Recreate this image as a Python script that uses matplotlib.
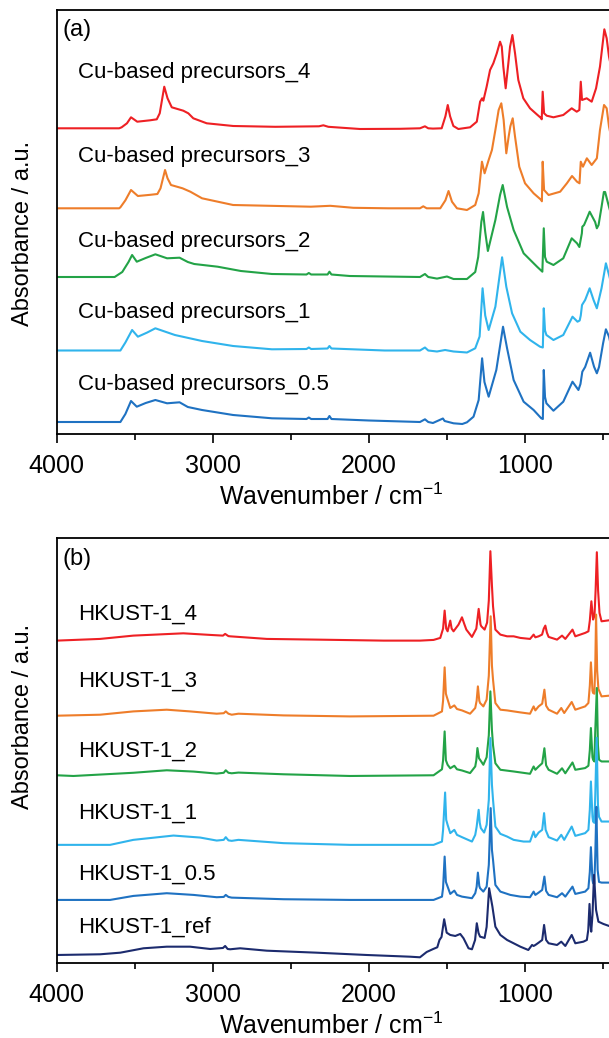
import matplotlib
matplotlib.use("Agg")
import matplotlib.pyplot as plt
from matplotlib.ticker import MultipleLocator

plt.rcParams['font.family'] = ['Liberation Sans', 'DejaVu Sans']
plt.rcParams['mathtext.fontset'] = 'custom'
plt.rcParams['mathtext.rm'] = 'Liberation Sans'
plt.rcParams['mathtext.default'] = 'regular'

# ---------------- Panel (a): Cu-based precursors (wavenumber cm-1, absorbance a.u.) ----------------
prec_4 = [(4000,0),(3600,0),(3584,1),(3550,5),(3524,11),(3484,6.6),(3402,8),(3359,9),(3340,15),
          (3311,41.6),(3290,30),(3263,21),(3189,17.6),(3157,15),(3125,10),(3039,5),(2869,2.3),
          (2600,1.5),(2320,2),(2292,3),(2260,1.5),(2057,-0.7),(1800,-0.5),(1673,0),(1641,2),
          (1620,0),(1590,-0.3),(1534,0),(1510,12),(1495,23.3),(1480,12),(1459,2.3),(1427,-0.7),
          (1352,1),(1309,6.6),(1288,26.6),(1275,30),(1267,27.6),(1246,41.6),(1224,58.3),(1203,65),
          (1181,75),(1160,86.6),(1149,81.6),(1139,61.6),(1124,40),(1107,65),(1096,81.6),(1081,93.3),
          (1064,75),(1043,48.3),(1011,30),(968,20),(925,14),(900,10.6),(893,9),(887,36.6),(878,15),
          (861,12.6),(818,11),(755,13.3),(701,20),(669,16.6),(652,18.3),(643,46.6),(635,28.3),
          (605,30),(573,26.6),(545,40),(520,61.6),(492,99),(477,90),(462,71.6),(440,55),(400,45)]
prec_3 = [(4000,0),(3600,0),(3592,1),(3560,8),(3524,18.3),(3480,12.3),(3400,13.5),(3355,14.3),
          (3335,20),(3306,38.3),(3290,30),(3268,23.3),(3194,20),(3144,16.6),(3069,10),(2870,3.3),
          (2372,1.6),(2248,2.5),(2100,0.5),(1876,0),(1673,0),(1652,2),(1630,0),(1543,0),(1510,8),
          (1490,17.3),(1468,6.6),(1436,0),(1372,-1.7),(1319,3.3),(1297,15),(1276,46.6),(1259,35),
          (1233,48.3),(1212,58.3),(1190,78.3),(1169,98.3),(1152,105),(1137,88.3),(1120,55),
          (1105,71.6),(1094,82),(1079,90),(1064,71.6),(1037,41.6),(1000,25),(945,15),(896,8.3),
          (892,7),(887,46.6),(878,18.3),(849,13.3),(775,16.6),(732,25),(699,32.3),(667,26.6),
          (651,25),(643,46.6),(629,41.6),(604,50),(573,43.3),(540,50),(520,78.3),(494,103.3),
          (477,100),(462,81.6),(440,65),(400,55)]
prec_2 = [(4000,0),(3629,0),(3580,5),(3540,15),(3517,22),(3487,15.3),(3430,19),(3368,22.7),
          (3293,18.7),(3213,19.3),(3160,15),(3119,13),(2969,10.3),(2820,6),(2621,3),(2400,2.5),
          (2385,4),(2370,2.5),(2265,2.5),(2253,5.3),(2240,2.5),(2123,1),(1900,0.5),(1673,0),
          (1641,3),(1620,0),(1564,-1.6),(1500,0.5),(1458,-2),(1372,-2),(1319,5),(1300,20),
          (1280,55),(1269,65),(1255,45),(1238,26),(1190,57),(1160,82),(1143,92),(1115,70),
          (1073,47),(1009,23.7),(923,10.3),(889,5.3),(880,48.7),(872,20),(861,15.3),(818,12),
          (755,18.7),(701,38.7),(667,33.7),(652,30),(636,43.7),(633,50.3),(622,52),(600,60),
          (586,65.3),(551,55),(540,48.7),(529,52),(510,70),(495,85),(487,85),(462,70),(440,58),(400,50)]
prec_1 = [(4000,0),(3592,0),(3560,8),(3517,20.5),(3480,13.8),(3420,18),(3368,22.2),(3243,15.5),
          (3069,9.5),(2870,4.5),(2621,1.2),(2400,1.5),(2385,3),(2370,1.5),(2265,2),(2253,4.5),
          (2240,2),(1900,0),(1673,0),(1641,3),(1620,0),(1564,-1),(1512,0.5),(1458,-1),(1372,-2),
          (1319,2.2),(1291,14),(1272,62.2),(1255,35),(1233,20.5),(1190,43.8),(1147,93.2),
          (1120,63.8),(1083,37.2),(1030,18.8),(968,10.5),(904,3.8),(886,3),(880,42.2),(872,20),
          (863,15.5),(818,10.5),(755,15.5),(696,33.8),(664,28.8),(650,30),(643,35),(635,45.5),
          (615,50.5),(586,62.2),(561,50.5),(540,42.2),(510,62.2),(482,87.2),(462,75.5),(440,62),(400,52)]
prec_05 = [(4000,0),(3592,0),(3560,8),(3524,21),(3487,15.3),(3430,19),(3368,22),(3293,18.7),
           (3213,19.7),(3160,15),(3069,12),(2870,7),(2621,3.7),(2400,3),(2385,4.5),(2370,3),
           (2265,3),(2253,6),(2240,3),(2000,1.5),(1673,0),(1641,2.7),(1620,0),(1590,-1),(1526,3.5),
           (1515,1),(1458,-1.3),(1402,-2),(1372,-0.3),(1330,5.3),(1297,22),(1275,63.7),(1260,40),
           (1233,25.3),(1184,52),(1141,95.3),(1115,73.7),(1073,42),(1009,20.3),(945,12),(896,3.7),
           (886,3),(880,52),(872,25),(863,18.7),(818,11.3),(755,20.3),(696,40.3),(658,32),(645,38),
           (633,50.3),(615,55),(583,69.3),(558,55.3),(540,48.7),(526,55),(500,78.7),(482,92.7),
           (462,85.3),(440,70),(400,60)]

# ---------------- Panel (b): HKUST-1 ----------------
hk_4 = [(4000,0),(3722,1.7),(3509,5),(3189,7.3),(3017,5.7),(2935,5),(2921,6.7),(2900,4.5),
        (2889,4.3),(2654,1.7),(2333,1),(1906,0),(1673,0),(1586,0.7),(1543,2.7),(1525,12),(1515,30),
        (1505,12),(1496,9.3),(1479,20),(1470,12),(1458,9.3),(1426,16),(1404,23.3),(1390,17),
        (1376,11),(1340,3.7),(1312,12),(1297,31.7),(1285,16),(1280,14.3),(1259,11),(1243,18),
        (1232,40),(1222,89.3),(1212,55),(1205,34.3),(1190,11),(1158,6),(1115,4.3),(1073,4.3),
        (1030,2.7),(968,1.7),(945,6),(934,3.3),(913,4.3),(891,6),(880,12),(870,15),(860,8),
        (849,3.7),(795,1),(763,5),(742,1.7),(696,11),(678,4.3),(615,7.7),(594,9.3),(585,20),
        (575,39.3),(564,21),(555,25),(548,50),(540,88.3),(532,50),(523,27.7),(510,19.3),(462,20.3),(400,20)]
hk_3 = [(4000,0),(3722,1),(3509,4.3),(3295,6),(3146,4.3),(2975,2),(2930,2.5),(2917,4.3),(2900,2),
        (2879,1),(2836,2),(2547,0.3),(2121,-0.7),(1586,0),(1532,4.3),(1525,15),(1515,48.3),
        (1507,22),(1502,19.3),(1479,7.7),(1453,10.3),(1436,6.7),(1404,5.3),(1352,2),(1319,7.7),
        (1310,15),(1302,29.3),(1293,15),(1288,12.7),(1267,9.3),(1246,16),(1232,40),(1220,99.3),
        (1212,50),(1205,36),(1190,12.7),(1158,6),(1115,5.3),(1073,4.3),(1030,3.3),(968,2),(945,9.3),
        (934,5.3),(913,9.3),(890,12),(876,26),(865,10),(849,6),(795,2),(768,7.7),(749,2.7),
        (701,13.7),(678,6),(615,9.3),(594,12.7),(585,30),(578,53.3),(568,25),(564,22.7),(556,22),
        (550,50),(545,101),(538,45),(530,26.7),(510,19.3),(462,20),(400,20)]
hk_2 = [(4000,0),(3893,-0.7),(3509,2.5),(3295,5),(3123,3.7),(2975,1.7),(2930,2.5),(2917,5),
        (2900,2.5),(2879,2),(2836,2.7),(2547,1),(2121,-0.7),(1586,0),(1532,6),(1525,15),(1515,43.8),
        (1507,15),(1496,10.5),(1479,7),(1453,9.5),(1436,6),(1404,4.8),(1352,2.2),(1319,8.8),
        (1312,15),(1305,27.2),(1295,17),(1288,15.5),(1267,10.5),(1246,18),(1232,40),(1222,83.8),
        (1212,45),(1205,30),(1190,12),(1158,5.5),(1073,3.8),(968,1.5),(945,8.8),(934,5.5),(913,8.8),
        (890,12),(876,27),(865,10),(849,5.5),(795,1.5),(763,7),(742,2),(696,12.8),(678,5.5),
        (615,7.2),(594,9.5),(585,25),(578,47.2),(568,18),(564,15.5),(556,13.8),(550,45),(540,87.2),
        (533,30),(526,15.5),(510,13.8),(462,13.8),(400,13.8)]
hk_1 = [(4000,0),(3658,0),(3509,5),(3252,9.3),(3081,7.3),(2975,4.3),(2930,5),(2917,7.7),(2900,4.5),
        (2879,4),(2836,5),(2547,1.7),(2121,0),(1586,0),(1532,3.3),(1525,15),(1512,52.3),(1505,25),
        (1496,20),(1479,11.7),(1453,15),(1436,10),(1404,7.7),(1340,3.3),(1319,10),(1310,18),
        (1297,35),(1290,22),(1283,16.7),(1262,12.3),(1246,20),(1232,45),(1222,106.7),(1212,60),
        (1205,45),(1190,18.3),(1158,11),(1115,8.3),(1073,5),(1009,3.3),(968,3.3),(945,13.3),
        (934,7.7),(913,12.3),(890,15),(878,31.7),(868,15),(849,7.7),(795,4.3),(768,10),(749,5),
        (701,18.3),(678,9),(615,11.7),(594,15),(585,35),(578,63.3),(568,28),(564,23.3),(556,22),
        (550,50),(541,107),(533,40),(526,28),(510,23.3),(462,23.3),(400,23.3)]
hk_05 = [(4000,0),(3658,0),(3509,4),(3295,6.7),(3123,5),(2975,2.7),(2930,3),(2917,5),(2900,3),
         (2879,2.3),(2547,0.7),(2121,0),(1586,0),(1532,3.3),(1525,12),(1515,43.3),(1507,18),
         (1496,13.3),(1479,6),(1453,9.3),(1436,5),(1404,3.3),(1340,1.7),(1319,6.7),(1310,13),
         (1302,27.3),(1293,14),(1288,11.7),(1267,8.3),(1246,13.3),(1232,35),(1220,91.7),(1212,50),
         (1205,40),(1190,15),(1158,8.3),(1094,5),(1030,3.3),(968,2.7),(945,8.3),(934,5),(913,7.3),
         (890,10),(876,23.3),(865,9),(849,5),(795,2.7),(763,6.7),(742,3.3),(696,13.3),(678,6),
         (615,8.3),(594,11.7),(585,28),(578,52.7),(568,20),(564,16.7),(556,16),(550,45),(543,93),
         (535,30),(526,18),(510,17.3),(462,17.3),(400,17.3)]
hk_ref = [(4000,0),(3722,0.7),(3593,2.3),(3444,6.7),(3295,8.3),(3146,8.3),(3017,6),(2935,7),
          (2921,9),(2905,6),(2889,5.7),(2825,6.7),(2654,4.3),(2333,2.3),(2014,0),(1737,-1.7),
          (1673,-2.3),(1630,3),(1588,6),(1562,7.7),(1548,15),(1535,18),(1518,35.7),(1502,22.3),
          (1479,20),(1447,19),(1415,21),(1394,16.7),(1362,6.7),(1340,5.7),(1320,15),(1309,31.7),
          (1298,22),(1288,18.3),(1259,17),(1246,28),(1230,66.7),(1209,48.3),(1190,28.3),(1158,20),
          (1115,15),(1073,11.7),(1030,8.3),(979,5),(955,10),(945,9),(934,10),(913,12.3),(890,15),
          (878,30),(865,15),(849,11.7),(795,10),(768,13.3),(742,9),(701,20),(678,11.7),(626,13.3),
          (604,15),(595,25),(587,51),(580,30),(576,23.3),(568,40),(558,80),(545,45),(530,33.3),
          (498,31),(462,29),(400,28)]

labels_a = ["Cu-based precursors_4", "Cu-based precursors_3", "Cu-based precursors_2",
            "Cu-based precursors_1", "Cu-based precursors_0.5"]
series_a = [prec_4, prec_3, prec_2, prec_1, prec_05]
offsets_a = [305.7, 225.7, 157.0, 83.5, 12.0]

labels_b = ["HKUST-1_4", "HKUST-1_3", "HKUST-1_2", "HKUST-1_1", "HKUST-1_0.5", "HKUST-1_ref"]
series_b = [hk_4, hk_3, hk_2, hk_1, hk_05, hk_ref]
offsets_b = [322.0, 247.0, 187.5, 118.0, 63.0, 8.0]

colors = ['#ee2024', '#ee7d2a', '#23a347', '#30b4ec', '#1f72c2', '#1c2b6e']

W, H = 609, 1038
fig = plt.figure(figsize=(W/100, H/100), dpi=100)

def px_axes(left, top, right, bottom):
    return fig.add_axes([left/W, 1-bottom/H, (right-left)/W, (bottom-top)/H])

axA = px_axes(56.7, 9.5, 618.7, 434)
axB = px_axes(56.7, 538, 618.7, 963)

for ax, series, offs in [(axA, series_a, offsets_a), (axB, series_b, offsets_b)]:
    for i, (s, off) in enumerate(zip(series, offs)):
        wn = [p[0] for p in s]
        h = [p[1] + off for p in s]
        ax.plot(wn, h, color=colors[i], lw=1.5, solid_joinstyle='round')
    ax.set_xlim(4000, 400)
    ax.set_ylim(0, 424.5)
    ax.set_yticks([])
    ax.xaxis.set_major_locator(MultipleLocator(1000))
    ax.xaxis.set_minor_locator(MultipleLocator(500))
    ax.tick_params(axis='x', which='major', direction='out', length=6.5, width=1.2,
                   labelsize=18, pad=8)
    ax.tick_params(axis='x', which='minor', direction='out', length=4, width=1.2)
    ax.set_xticks([4000, 3000, 2000, 1000])
    for sp in ax.spines.values():
        sp.set_linewidth(1.3)
    ax.spines['right'].set_visible(False)

def ftext(x, y, s, **kw):
    fig.text(x/W, 1-y/H, s, **kw)

# curve labels (baseline positions in pixels)
for lab, yb in zip(labels_a, [78.3, 161.7, 246.7, 318.3, 390.0]):
    ftext(78, yb, lab, fontsize=16, va='baseline', ha='left')
for lab, yb in zip(labels_b, [620.0, 686.7, 756.7, 819.0, 880.0, 933.0]):
    ftext(78.3, yb, lab, fontsize=16, va='baseline', ha='left')

ftext(63, 36, "(a)", fontsize=17, va='baseline', ha='left')
ftext(63, 565, "(b)", fontsize=17, va='baseline', ha='left')

ftext(23, 233.5, "Absorbance / a.u.", fontsize=17, rotation=90, va='center', ha='center')
ftext(23, 716, "Absorbance / a.u.", fontsize=17, rotation=90, va='center', ha='center')

ftext(331, 505, "Wavenumber / cm$^{-1}$", fontsize=18, va='baseline', ha='center')
ftext(331, 1034, "Wavenumber / cm$^{-1}$", fontsize=18, va='baseline', ha='center')

fig.savefig("out.png", dpi=100)
